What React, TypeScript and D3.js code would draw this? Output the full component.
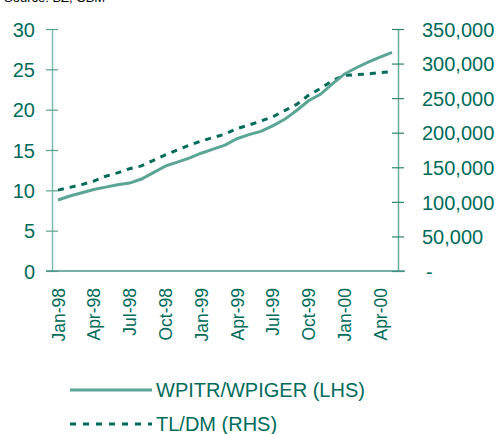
import React, { useEffect, useRef } from 'react';
import * as d3 from 'd3';

const width = 500;
const height = 434;

const plot = { left: 52, right: 398, top: 29, bottom: 271 };

const months = [
  'Jan-98', 'Feb-98', 'Mar-98', 'Apr-98', 'May-98', 'Jun-98', 'Jul-98', 'Aug-98', 'Sep-98',
  'Oct-98', 'Nov-98', 'Dec-98', 'Jan-99', 'Feb-99', 'Mar-99', 'Apr-99', 'May-99', 'Jun-99',
  'Jul-99', 'Aug-99', 'Sep-99', 'Oct-99', 'Nov-99', 'Dec-99', 'Jan-00', 'Feb-00', 'Mar-00',
  'Apr-00', 'May-00',
];

// WPITR/WPIGER (LHS)
const wpiRatio = [
  8.8, 9.3, 9.7, 10.1, 10.4, 10.7, 10.9, 11.4, 12.2, 13.0, 13.5, 14.0, 14.6, 15.1, 15.6,
  16.4, 16.9, 17.3, 18.0, 18.8, 19.9, 21.1, 21.9, 23.2, 24.4, 25.2, 25.9, 26.5, 27.1,
];

// TL/DM (RHS)
const tlDm = [
  117000, 121000, 125000, 130000, 137000, 142000, 148000, 152000, 160000, 168000, 175000,
  182000, 188000, 193000, 198000, 206000, 211000, 217000, 223000, 232000, 241000, 254000,
  264000, 275000, 283000, 284000, 285000, 287000, 288000,
];

const leftTicks = [0, 5, 10, 15, 20, 25, 30];
const rightTicks = [0, 50000, 100000, 150000, 200000, 250000, 300000, 350000];
const xTickLabels = ['Jan-98', 'Apr-98', 'Jul-98', 'Oct-98', 'Jan-99', 'Apr-99', 'Jul-99', 'Oct-99', 'Jan-00', 'Apr-00'];

const textColor = '#006b5a';
const solidColor = '#5aa595';
const dashColor = '#006b5a';
const font = '"Liberation Sans", Arial, sans-serif';

export default function App(): JSX.Element {
  const container = useRef<SVGSVGElement>(null);

  useEffect(() => {
    const svg = d3.select(container.current);
    svg.selectAll('*').remove();

    const x = d3.scalePoint<string>().domain(months).range([plot.left, plot.right]).padding(0.5);
    const yL = d3.scaleLinear().domain([0, 30]).range([plot.bottom, plot.top]);
    const yR = d3.scaleLinear().domain([0, 350000]).range([plot.bottom, plot.top]);

    // source note, cut off at the top
    svg.append('text')
      .attr('x', 4).attr('y', 2)
      .attr('font-family', font).attr('font-size', 13).attr('fill', '#000')
      .text('Source: BZ, CBM');

    // left axis
    const gl = svg.append('g').attr('transform', `translate(${plot.left},0)`)
      .call(d3.axisLeft(yL).tickValues(leftTicks).tickSizeInner(6).tickSizeOuter(0).tickPadding(11));
    gl.select('.domain').attr('stroke', '#7fbcae').attr('stroke-width', 1.5);
    gl.selectAll('.tick line').attr('stroke', '#5a9f92').attr('x2', 6).attr('x1', -6).attr('stroke-width', 1.2);
    gl.selectAll('.tick text').attr('font-family', font).attr('font-size', 20).attr('fill', textColor).attr('dy', '0.36em');

    // right axis
    const gr = svg.append('g').attr('transform', `translate(${plot.right},0)`)
      .call(d3.axisRight(yR).tickValues(rightTicks).tickSizeInner(6).tickSizeOuter(0).tickPadding(18)
        .tickFormat((d) => (+d === 0 ? '-' : d3.format(',')(+d))));
    gr.select('.domain').attr('stroke', '#6aae9f').attr('stroke-width', 1.5);
    gr.selectAll('.tick line').attr('stroke', '#2f8270').attr('x1', -6).attr('x2', 6).attr('stroke-width', 1.2);
    gr.selectAll('.tick text').attr('font-family', font).attr('font-size', 20).attr('fill', textColor).attr('dy', '0.36em');
    gr.selectAll('.tick text').filter((d) => +(d as number) === 0).attr('dx', 4);

    // x axis
    const gx = svg.append('g').attr('transform', `translate(0,${plot.bottom})`)
      .call(d3.axisBottom(x).tickValues(xTickLabels).tickSize(0).tickPadding(0));
    gx.select('.domain').remove();
    gx.selectAll('.tick text')
      .attr('font-family', font).attr('font-size', 17.5).attr('fill', textColor)
      .attr('transform', 'rotate(-90)')
      .attr('text-anchor', 'end')
      .attr('x', -17).attr('y', 0).attr('dy', '0.35em');
    svg.append('line')
      .attr('x1', plot.left - 6).attr('x2', plot.right + 7)
      .attr('y1', plot.bottom).attr('y2', plot.bottom)
      .attr('stroke', '#4a9584').attr('stroke-width', 1.5);

    const lineL = d3.line<number>().x((_, i) => x(months[i]) ?? 0).y((d) => yL(d));
    const lineR = d3.line<number>().x((_, i) => x(months[i]) ?? 0).y((d) => yR(d));

    svg.append('path').attr('d', lineR(tlDm) || '')
      .attr('fill', 'none').attr('stroke', dashColor).attr('stroke-width', 3)
      .attr('stroke-dasharray', '6,6');
    svg.append('path').attr('d', lineL(wpiRatio) || '')
      .attr('fill', 'none').attr('stroke', solidColor).attr('stroke-width', 3);

    // legend
    const legend = svg.append('g');
    legend.append('line').attr('x1', 70).attr('x2', 152).attr('y1', 390).attr('y2', 390)
      .attr('stroke', solidColor).attr('stroke-width', 3);
    legend.append('text').attr('x', 156).attr('y', 397)
      .attr('font-family', font).attr('font-size', 20).attr('fill', textColor)
      .text('WPITR/WPIGER (LHS)');
    legend.append('line').attr('x1', 70).attr('x2', 152).attr('y1', 424).attr('y2', 424)
      .attr('stroke', dashColor).attr('stroke-width', 3).attr('stroke-dasharray', '6,7');
    legend.append('text').attr('x', 156).attr('y', 431)
      .attr('font-family', font).attr('font-size', 20).attr('fill', textColor)
      .text('TL/DM (RHS)');
  }, []);

  return (
    <svg
      ref={container}
      width={width}
      height={height}
      style={{ position: 'absolute', left: 0, top: 0, background: '#fff' }}
    />
  );
}
